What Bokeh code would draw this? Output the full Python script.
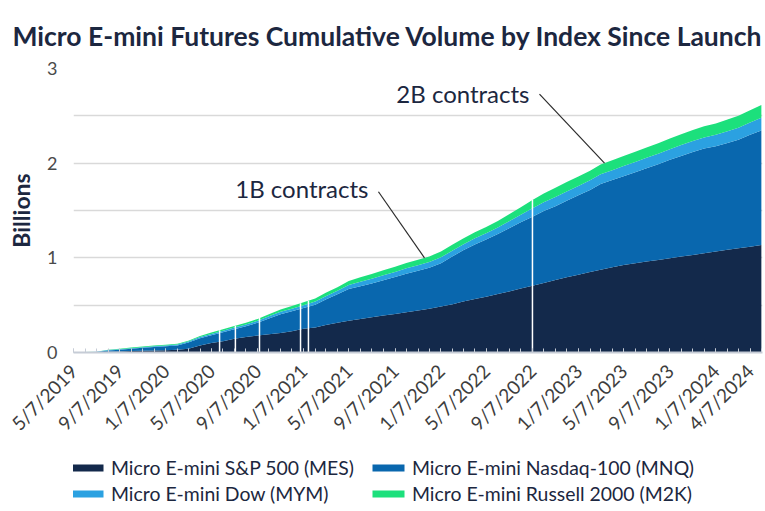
import math
import numpy as np
import pandas as pd
from bokeh.plotting import figure
from bokeh.layouts import column
from bokeh.models import (Range1d, FixedTicker, Legend, LegendItem, Label, ColumnDataSource)
from bokeh.embed import file_html
from bokeh.resources import INLINE

# ---------------- data (billions of contracts, cumulative) ----------------
dates = [
    "2019-05-07", "2019-06-07", "2019-07-07", "2019-08-07", "2019-09-07", "2019-10-07",
    "2019-11-07", "2019-12-07", "2020-01-07", "2020-02-07", "2020-03-07", "2020-04-07",
    "2020-05-07", "2020-06-07", "2020-07-07", "2020-08-07", "2020-09-07", "2020-10-07",
    "2020-11-07", "2020-12-07", "2021-01-07", "2021-02-07", "2021-03-07", "2021-04-07",
    "2021-05-07", "2021-06-07", "2021-07-07", "2021-08-07", "2021-09-07", "2021-10-07",
    "2021-11-07", "2021-12-07", "2022-01-07", "2022-02-07", "2022-03-07", "2022-04-07",
    "2022-05-07", "2022-06-07", "2022-07-07", "2022-08-07", "2022-09-07", "2022-10-07",
    "2022-11-07", "2022-12-07", "2023-01-07", "2023-02-07", "2023-03-07", "2023-04-07",
    "2023-05-07", "2023-06-07", "2023-07-07", "2023-08-07", "2023-09-07", "2023-10-07",
    "2023-11-07", "2023-12-07", "2024-01-07", "2024-02-07", "2024-03-07", "2024-04-07",
    "2024-05-07",
]
mes = [0, 0.001, 0.002, 0.008, 0.011, 0.015, 0.018, 0.021, 0.024, 0.028, 0.04, 0.075,
       0.1, 0.12, 0.145, 0.165, 0.18, 0.192, 0.205, 0.225, 0.25, 0.265, 0.29, 0.315,
       0.335, 0.355, 0.372, 0.39, 0.408, 0.425, 0.443, 0.462, 0.485, 0.51, 0.54, 0.565,
       0.59, 0.618, 0.645, 0.675, 0.705, 0.735, 0.765, 0.795, 0.822, 0.85, 0.875, 0.9,
       0.925, 0.943, 0.96, 0.978, 0.995, 1.013, 1.03, 1.048, 1.068, 1.085, 1.1, 1.118,
       1.135]
mnq = [0, 0.002, 0.004, 0.014, 0.019, 0.025, 0.031, 0.038, 0.042, 0.047, 0.065, 0.076,
       0.082, 0.094, 0.101, 0.113, 0.135, 0.168, 0.2, 0.21, 0.22, 0.24, 0.27, 0.30,
       0.335, 0.345, 0.358, 0.373, 0.389, 0.408, 0.421, 0.433, 0.459, 0.506, 0.539, 0.577,
       0.603, 0.634, 0.667, 0.70, 0.73, 0.76, 0.78, 0.807, 0.838, 0.867, 0.904, 0.921,
       0.938, 0.962, 0.987, 1.011, 1.041, 1.064, 1.088, 1.106, 1.112, 1.129, 1.148, 1.182,
       1.21]
mym = [0, 0.0005, 0.001, 0.004, 0.005, 0.006, 0.007, 0.008, 0.009, 0.009, 0.01, 0.012,
       0.014, 0.016, 0.017, 0.019, 0.02, 0.023, 0.025, 0.028, 0.03, 0.033, 0.035, 0.038,
       0.043, 0.048, 0.05, 0.053, 0.054, 0.056, 0.058, 0.06, 0.061, 0.062, 0.063, 0.064,
       0.066, 0.069, 0.074, 0.08, 0.088, 0.093, 0.098, 0.099, 0.1, 0.102, 0.103, 0.105,
       0.106, 0.108, 0.109, 0.111, 0.112, 0.114, 0.116, 0.118, 0.12, 0.123, 0.126, 0.13,
       0.135]
m2k = [0, 0.0005, 0.001, 0.004, 0.005, 0.006, 0.007, 0.008, 0.008, 0.009, 0.01, 0.012,
       0.014, 0.015, 0.017, 0.018, 0.02, 0.022, 0.025, 0.027, 0.03, 0.032, 0.035, 0.037,
       0.042, 0.047, 0.05, 0.052, 0.054, 0.056, 0.058, 0.06, 0.061, 0.062, 0.063, 0.064,
       0.066, 0.069, 0.074, 0.08, 0.087, 0.092, 0.097, 0.099, 0.1, 0.101, 0.103, 0.104,
       0.106, 0.107, 0.109, 0.11, 0.112, 0.114, 0.116, 0.118, 0.12, 0.123, 0.126, 0.13,
       0.135]

series_names = [
    "Micro E-mini S&P 500 (MES)",
    "Micro E-mini Nasdaq-100 (MNQ)",
    "Micro E-mini Dow (MYM)",
    "Micro E-mini Russell 2000 (M2K)",
]
tick_labels = ["5/7/2019", "9/7/2019", "1/7/2020", "5/7/2020", "9/7/2020", "1/7/2021",
               "5/7/2021", "9/7/2021", "1/7/2022", "5/7/2022", "9/7/2022", "1/7/2023",
               "5/7/2023", "9/7/2023", "1/7/2024", "4/7/2024"]
y_ticks = [0, 1, 2, 3]
# dates where the source chart shows thin white breaks in the stack
gap_dates = ["2020-05-29", "2020-07-10", "2020-09-12", "2020-12-30", "2021-01-20", "2022-09-07"]
milestones = [1.0, 2.0]
milestone_labels = ["1B contracts", "2B contracts"]
title_text = "Micro E-mini Futures Cumulative Volume by Index Since Launch"

# ---------------- styling ----------------
colors = ["#13294b", "#0967ae", "#2ba1e1", "#1ce07c"]
FONT = "Lato"
TEXT_DARK = "#1c2740"
W = 765
BORDER_L, BORDER_R = 73, 3
MAIN_H, LEG_H = 445, 66
FRAME_W, FRAME_H = W - BORDER_L - BORDER_R, 288

start = pd.Timestamp(dates[0])
day = (pd.to_datetime(dates) - start).days.to_numpy().astype(float)
tick_days = [int(d) for d in (pd.to_datetime(tick_labels, format="%m/%d/%Y") - start).days]
minor_days = [int(d) for d in (pd.date_range(dates[0], dates[-1], freq=pd.DateOffset(months=1)) - start).days]

X_END = 1830
px_per_day = FRAME_W / X_END
px_per_unit = FRAME_H / 3.0

src = ColumnDataSource(dict(x=day, MES=mes, MNQ=mnq, MYM=mym, M2K=m2k))

# ---------------- main chart ----------------
p = figure(width=W, height=MAIN_H, output_backend="svg", toolbar_location=None,
           x_range=Range1d(0, X_END), y_range=Range1d(0, 3),
           min_border_left=BORDER_L, min_border_right=BORDER_R, min_border_top=67,
           min_border_bottom=90)
p.outline_line_color = None

p.title.text = title_text
p.title.text_font = FONT
p.title.text_font_size = "26.5px"
p.title.text_font_style = "bold"
p.title.text_color = TEXT_DARK
p.title.align = "left"
p.title.offset = 12 - BORDER_L
p.title.standoff = 34

renderers = p.varea_stack(["MES", "MNQ", "MYM", "M2K"], x="x", color=colors, source=src)

total = np.array(mes) + np.array(mnq) + np.array(mym) + np.array(m2k)
gdays = (pd.to_datetime(gap_dates) - start).days.to_numpy().astype(float)
gtop = np.interp(gdays, day, total)
p.segment(x0=gdays, y0=np.zeros(len(gdays)), x1=gdays, y1=gtop, line_color="white", line_width=1.5)

ann = [(-46, 67, 3), (-65, 70, 1)]  # (dx px, dy px, text y offset)
for m, lbl, (dxp, dyp, toff) in zip(milestones, milestone_labels, ann):
    xt = float(np.interp(m, total, day))
    xs = xt + dxp / px_per_day
    ys = m + dyp / px_per_unit
    p.segment(x0=[xs], y0=[ys], x1=[xt], y1=[m], line_color="#2b2b2b", line_width=1.2)
    p.add_layout(Label(x=xs, y=ys, x_offset=-10, y_offset=toff, text=lbl,
                       text_align="right", text_baseline="middle",
                       text_font=FONT, text_font_size="24px", text_color=TEXT_DARK))

p.yaxis.ticker = FixedTicker(ticks=y_ticks)
p.yaxis.axis_line_color = None
p.yaxis.major_tick_line_color = None
p.yaxis.minor_tick_line_color = None
p.yaxis.major_label_text_font = FONT
p.yaxis.major_label_text_font_size = "18px"
p.yaxis.major_label_text_color = "#4a4a4a"
p.yaxis.major_label_standoff = 10
p.yaxis.axis_label = "Billions"
p.yaxis.axis_label_text_font = FONT
p.yaxis.axis_label_text_font_size = "23px"
p.yaxis.axis_label_text_font_style = "bold"
p.yaxis.axis_label_text_color = TEXT_DARK
p.yaxis.axis_label_standoff = 9

p.ygrid.ticker = FixedTicker(ticks=[0.5, 1, 1.5, 2, 2.5, 3])
p.ygrid.grid_line_color = "#d9d9d9"
p.ygrid.grid_line_width = 1.5
p.xgrid.grid_line_color = None

xaxis = p.xaxis[0]
xaxis.ticker = FixedTicker(ticks=tick_days, minor_ticks=minor_days)
xaxis.major_label_overrides = {d: l for d, l in zip(tick_days, tick_labels)}
xaxis.major_label_orientation = math.pi / 4
xaxis.major_label_text_font = FONT
xaxis.major_label_text_font_size = "19px"
xaxis.major_label_text_color = "#3d3d3d"
xaxis.major_label_standoff = 15
xaxis.axis_line_color = "#c6ccd6"
xaxis.axis_line_width = 2
xaxis.major_tick_in = 4
xaxis.major_tick_out = 0
xaxis.minor_tick_in = 4
xaxis.minor_tick_out = 0
xaxis.major_tick_line_color = "#c6ccd6"
xaxis.minor_tick_line_color = "#c6ccd6"

# ---------------- legend strip ----------------
pl = figure(width=W, height=LEG_H, output_backend="svg", toolbar_location=None,
            x_range=Range1d(-20, -10), y_range=Range1d(0, 1), x_axis_location=None,
            y_axis_location=None, title_location=None, min_border_left=BORDER_L,
            min_border_right=BORDER_R, min_border_top=0, min_border_bottom=0)
pl.outline_line_color = None
pl.xgrid.visible = False
pl.ygrid.visible = False
leg_renderers = pl.varea_stack(["MES", "MNQ", "MYM", "M2K"], x="x", color=colors, source=src)
items = [LegendItem(label=n, renderers=[r]) for n, r in zip(series_names, leg_renderers)]
legend = Legend(items=items, location=(-6, 6), orientation="horizontal", ncols=2,
                glyph_width=40, glyph_height=9, label_height=24, spacing=2,
                label_standoff=4, label_width=255, padding=0, margin=0,
                border_line_color=None, background_fill_alpha=0,
                label_text_font=FONT, label_text_font_size="19.4px", label_text_color=TEXT_DARK)
pl.add_layout(legend)

layout = column(p, pl, spacing=0)
open("out.html", "w").write(file_html(layout, INLINE))
